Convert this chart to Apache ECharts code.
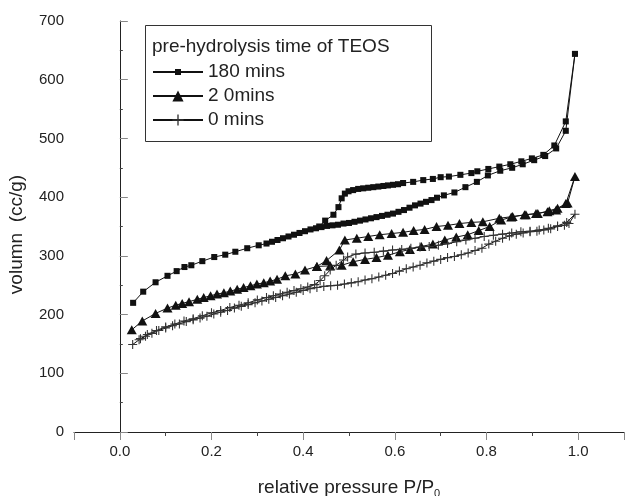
<!DOCTYPE html>
<html>
<head>
<meta charset="UTF-8">
<title>isotherm</title>
<script src="https://cdn.jsdelivr.net/npm/echarts@6/dist/echarts.min.js"></script>
<style>html,body{margin:0;padding:0;background:#fff}</style>
</head>
<body>
<div id="main" style="width:625px;height:496px"></div>
<script>
// 180 mins - adsorption / desorption
var ads180P = [0.029,0.051,0.078,0.104,0.124,0.141,0.156,0.180,0.206,0.230,0.252,0.278,0.303,0.320,0.332,0.344,0.356,0.368,0.380,0.392,0.404,0.416,0.428,0.440,0.452,0.464,0.476,0.488,0.500,0.512,0.524,0.536,0.548,0.560,0.572,0.584,0.596,0.608,0.620,0.632,0.644,0.656,0.668,0.680,0.692,0.707,0.730,0.754,0.779,0.803,0.830,0.856,0.879,0.904,0.928,0.952,0.973,0.993];
var ads180V = [220,239,255,266,274,281,284,291,298,302,307,313,318,321,324,327,330,333,336,339,342,345,347,349,351,352,353,355,356,358,360,362,364,366,368,370,372,375,378,382,386,389,392,395,399,403,408,417,426,437,445,450,456,463,470,483,513,644];
var des180P = [0.973,0.948,0.924,0.899,0.876,0.852,0.828,0.804,0.780,0.767,0.743,0.718,0.700,0.683,0.662,0.640,0.618,0.607,0.596,0.585,0.575,0.564,0.553,0.542,0.531,0.520,0.509,0.499,0.491,0.484,0.477,0.466,0.448,0.435];
var des180V = [529,488,472,466,461,456,452,448,444,441,438,435,434,431,429,426,424,422,421,420,419,418,417,416,415,414,412,410,406,398,383,370,360,350];

// 20 mins
var ads20P = [0.026,0.049,0.078,0.104,0.122,0.136,0.151,0.169,0.183,0.198,0.212,0.227,0.241,0.256,0.270,0.285,0.299,0.314,0.328,0.343,0.361,0.383,0.404,0.430,0.459,0.484,0.509,0.535,0.560,0.585,0.611,0.633,0.658,0.683,0.709,0.734,0.759,0.783,0.807,0.832,0.854,0.883,0.908,0.933,0.952,0.977,0.993];
var ads20V = [174,189,202,211,216,219,222,226,229,232,235,237,240,243,246,249,252,254,257,260,266,269,276,282,283,284,290,294,297,301,307,311,316,320,327,332,336,343,350,361,366,370,372,375,378,390,435];
var des20P = [0.973,0.955,0.937,0.912,0.886,0.857,0.828,0.792,0.767,0.741,0.716,0.691,0.665,0.641,0.618,0.593,0.567,0.542,0.517,0.491,0.479,0.451,0.430];
var des20V = [389,381,377,372,370,367,364,358,357,355,352,350,345,343,340,338,336,333,330,327,310,292,282];

// 0 mins
var ads0P = [0.028,0.042,0.056,0.070,0.085,0.100,0.115,0.130,0.145,0.160,0.175,0.190,0.205,0.220,0.235,0.250,0.265,0.280,0.295,0.310,0.325,0.340,0.355,0.370,0.385,0.400,0.415,0.430,0.445,0.460,0.475,0.490,0.505,0.520,0.535,0.550,0.565,0.580,0.595,0.610,0.625,0.640,0.655,0.670,0.685,0.700,0.715,0.730,0.745,0.760,0.775,0.790,0.805,0.820,0.835,0.850,0.865,0.880,0.895,0.910,0.925,0.940,0.955,0.970,0.980,0.993];
var ads0V = [149,157,163,168,173,177,181,184,188,191,194,197,201,204,207,211,214,217,220,223,226,229,232,235,238,241,244,246,248,249,250,252,254,256,259,261,264,267,270,274,278,281,284,288,291,294,297,299,302,305,309,313,320,325,330,334,337,339,341,342,344,346,350,352,355,371];
var des0P = [0.975,0.955,0.935,0.915,0.895,0.875,0.855,0.835,0.815,0.795,0.775,0.755,0.735,0.715,0.695,0.675,0.655,0.635,0.615,0.595,0.575,0.555,0.535,0.515,0.497,0.488,0.472,0.459,0.447,0.437,0.425,0.410,0.395,0.380,0.365,0.350,0.335,0.320,0.300,0.280,0.260,0.240,0.220,0.200,0.180,0.160,0.140,0.120,0.100,0.080,0.060,0.045];
var des0V = [357,351,347,344,342,341,339,337,335,333,330,327,324,321,318,316,315,313,311,310,308,306,305,303,298,293,284,276,266,258,251,247,244,241,238,235,232,229,225,220,216,212,207,203,198,193,189,184,179,173,166,159];

var seriesNames = ['180 mins', '2 0mins', '0 mins'];
var legendTitle = 'pre-hydrolysis time of TEOS';

function pairs(p, v) {
    return p.map(function (x, i) { return [x, v[i]]; });
}

var FONT = '"Liberation Sans", Arial, Helvetica, sans-serif';
var INK = '#111';

var chart = echarts.init(document.getElementById('main'), null, {renderer: 'canvas'});

var option = {
    backgroundColor: '#fff',
    animation: false,
    textStyle: {fontFamily: FONT},
    grid: {left: 74, right: 1, top: 21, bottom: 64, outerBoundsMode: 'none', containLabel: false},
    legend: {
        orient: 'vertical',
        left: 152, top: 62,
        padding: 0,
        itemWidth: 50, itemHeight: 14, itemGap: 4,
        textStyle: {fontSize: 19, color: '#222', fontFamily: FONT, lineHeight: 20},
        data: seriesNames
    },
    graphic: [
        {type: 'rect', left: 143, top: 23, z: 100,
         shape: {width: 286, height: 116},
         style: {fill: 'none', stroke: '#333', lineWidth: 1}},
        {type: 'text', left: 152, top: 37, z: 100,
         style: {text: legendTitle, fontSize: 19, fontFamily: FONT, fill: '#222'}}
    ],
    xAxis: {
        type: 'value',
        min: -0.1, max: 1.1,
        splitNumber: 6,
        name: 'relative pressure P/P{sub|0}',
        nameLocation: 'middle',
        nameGap: 44,
        nameTextStyle: {
            fontSize: 19, color: '#222',
            rich: {sub: {fontSize: 11, color: '#222', padding: [12, 0, 0, 0]}}
        },
        axisLine: {lineStyle: {color: '#222', width: 1}},
        axisTick: {length: 8, lineStyle: {color: '#888'}},
        minorTick: {show: true, splitNumber: 2, length: 4, lineStyle: {color: '#444'}},
        splitLine: {show: false},
        axisLabel: {
            showMinLabel: false, showMaxLabel: false,
            fontSize: 15, color: '#222', margin: 12,
            formatter: function (v) { return v.toFixed(1); }
        }
    },
    yAxis: {
        type: 'value',
        min: 0, max: 700, interval: 100,
        name: 'volumn  (cc/g)',
        nameLocation: 'middle',
        nameGap: 48,
        nameTextStyle: {fontSize: 19, color: '#222', padding: [0, 16, 0, 0]},
        axisLine: {show: true, lineStyle: {color: '#222', width: 1}},
        axisTick: {show: true, inside: true, length: 8, lineStyle: {color: '#888'}},
        minorTick: {show: true, splitNumber: 2, length: 3, lineStyle: {color: '#444'}},
        splitLine: {show: false},
        axisLabel: {fontSize: 15, color: '#222', margin: 10}
    },
    series: [
        {
            name: seriesNames[0], type: 'line',
            data: pairs(ads180P, ads180V).concat(pairs(des180P, des180V)),
            symbol: 'path://M0,0L0,0M4.6,4.6H15.4V15.4H4.6ZM20,20L20,20',
            symbolSize: 11.2,
            lineStyle: {color: INK, width: 1},
            itemStyle: {color: INK, borderWidth: 0}
        },
        {
            name: seriesNames[1], type: 'line',
            data: pairs(ads20P, ads20V).concat(pairs(des20P, des20V)),
            symbol: 'triangle',
            symbolSize: [10, 9],
            lineStyle: {color: INK, width: 1},
            itemStyle: {color: INK, borderWidth: 0}
        },
        {
            name: seriesNames[2], type: 'line',
            data: pairs(ads0P, ads0V).concat(pairs(des0P, des0V)),
            symbol: 'path://M4.4,0H5.6V4.4H10V5.6H5.6V10H4.4V5.6H0V4.4H4.4Z',
            symbolSize: 9,
            lineStyle: {color: INK, width: 1},
            itemStyle: {color: '#333', borderWidth: 0}
        }
    ]
};

chart.setOption(option);
</script>
</body>
</html>
